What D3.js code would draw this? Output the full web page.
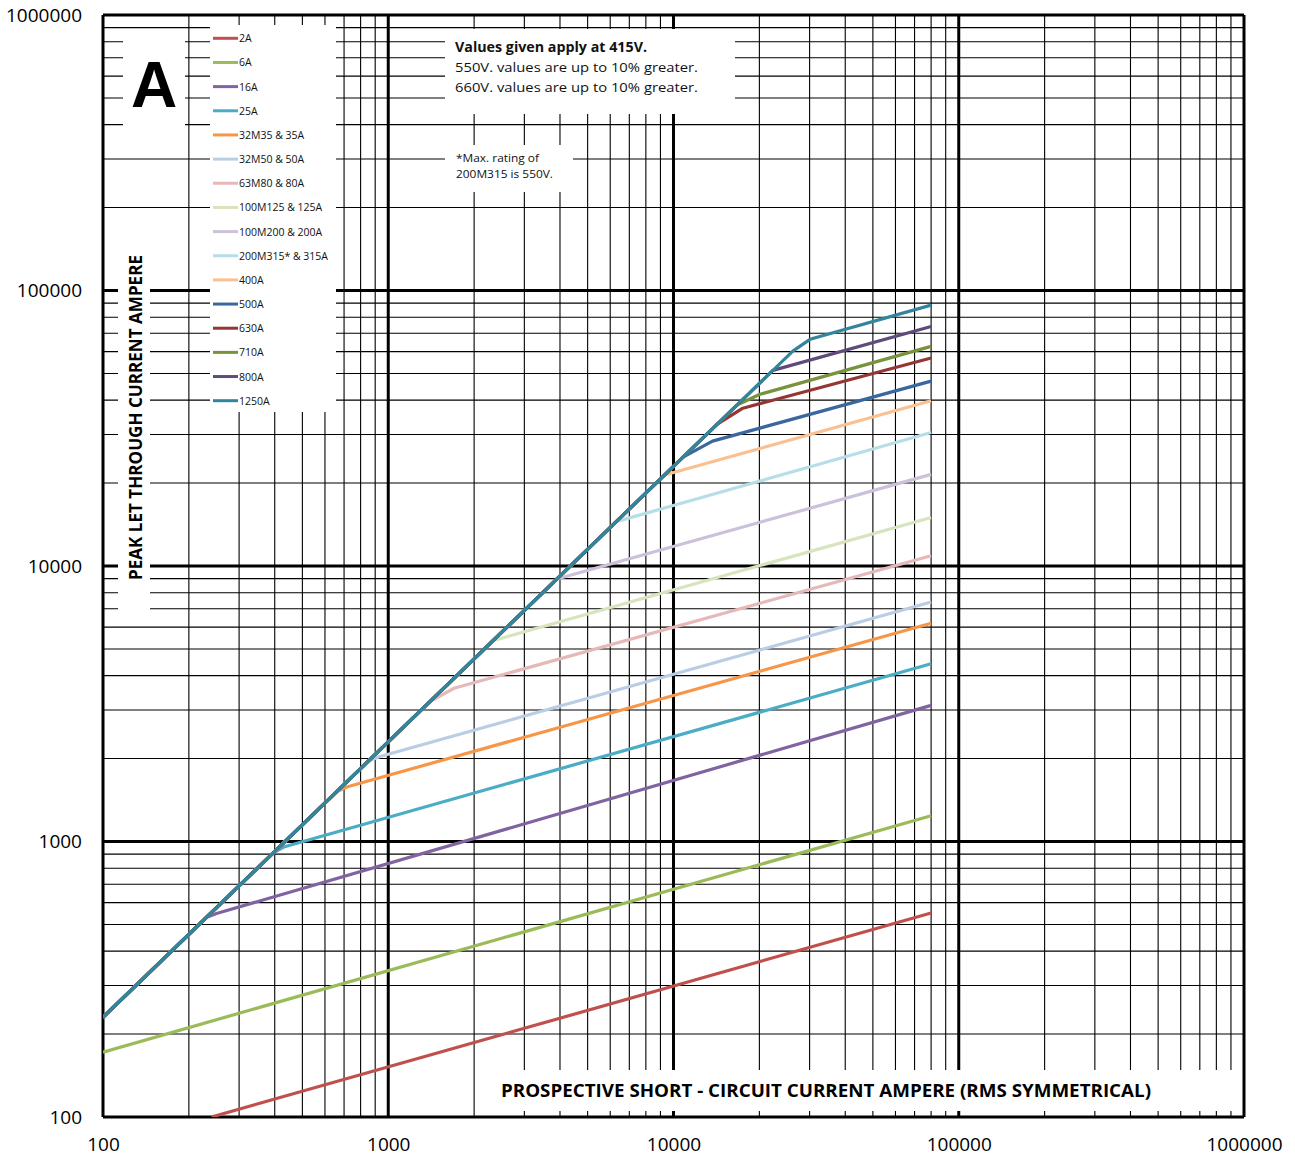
<!DOCTYPE html>
<html>
<head>
<meta charset="utf-8">
<script src="https://cdn.jsdelivr.net/npm/d3@7"></script>
<style>
  html, body { margin: 0; padding: 0; background: #fff; }
  svg { display: block; }
  text { font-family: "Open Sans", "Liberation Sans", sans-serif; }
</style>
</head>
<body>
<svg id="chart" width="1295" height="1159"></svg>
<script>
// ---------- data ----------
const xTickValues = [100, 1000, 10000, 100000, 1000000];
const yTickValues = [100, 1000, 10000, 100000, 1000000];
const xTickLabels = ["100", "1000", "10000", "100000", "1000000"];
const yTickLabels = ["100", "1000", "10000", "100000", "1000000"];

const seriesNames = ["2A", "6A", "16A", "25A", "32M35 & 35A", "32M50 & 50A", "63M80 & 80A",
  "100M125 & 125A", "100M200 & 200A", "200M315* & 315A", "400A", "500A", "630A", "710A", "800A", "1250A"];
const seriesColors = ["#c0504d", "#9bbb59", "#8064a2", "#4bacc6", "#f79646", "#b9cde5", "#e6b9b8",
  "#d7e4bd", "#ccc1da", "#b7dee8", "#fac090", "#3a679e", "#963634", "#77933c", "#604a7b", "#31859c"];

// [prospective current, peak let-through current]
const s2A    = [[240, 100], [80000, 550]];
const s6A    = [[100, 172], [80000, 1240]];
const s16A   = [[100, 230], [231, 531], [250, 548], [80000, 3120]];
const s25A   = [[100, 230], [395, 909], [430, 955], [80000, 4420]];
const s35A   = [[100, 230], [660, 1518], [720, 1580], [80000, 6200]];
const s50A   = [[100, 230], [850, 1955], [930, 2030], [80000, 7400]];
const s80A   = [[100, 230], [1400, 3220], [1700, 3600], [80000, 10900]];
const s125A  = [[100, 230], [2330, 5360], [80000, 15000]];
const s200A  = [[100, 230], [3900, 8970], [80000, 21500]];
const s315A  = [[100, 230], [6300, 14490], [80000, 30500]];
const s400A  = [[100, 230], [9300, 21390], [80000, 39800]];
const s500A  = [[100, 230], [10800, 24840], [13700, 28400], [80000, 46900]];
const s630A  = [[100, 230], [14200, 32660], [17500, 37400], [80000, 56900]];
const s710A  = [[100, 230], [16700, 38410], [20100, 42000], [80000, 62700]];
const s800A  = [[100, 230], [22300, 51290], [80000, 74000]];
const s1250A = [[100, 230], [26200, 60260], [30100, 66500], [80000, 88500]];
const seriesData = [s2A, s6A, s16A, s25A, s35A, s50A, s80A, s125A, s200A, s315A, s400A, s500A, s630A, s710A, s800A, s1250A];

const xTitle = "PROSPECTIVE SHORT - CIRCUIT CURRENT AMPERE (RMS SYMMETRICAL)";
const yTitle = "PEAK LET THROUGH CURRENT AMPERE";
const noteLines = ["Values given apply at 415V.", "550V. values are up to 10% greater.", "660V. values are up to 10% greater."];
const note2Lines = ["*Max. rating of", "200M315 is 550V."];

// ---------- layout ----------
const L = 103, R = 1244, T = 15, B = 1117;
const svg = d3.select("#chart");
const x = d3.scaleLog().domain([100, 1000000]).range([L, R]);
const y = d3.scaleLog().domain([100, 1000000]).range([B, T]);

svg.append("defs").append("clipPath").attr("id", "plotclip")
  .append("rect").attr("x", L).attr("y", T).attr("width", R - L).attr("height", B - T);

// grid
const minorVals = [];
for (let d = 100; d < 1000000; d *= 10) for (let k = 2; k <= 9; k++) minorVals.push(d * k);
const grid = svg.append("g");
grid.selectAll("line.vmin").data(minorVals).join("line")
  .attr("x1", d => x(d)).attr("x2", d => x(d)).attr("y1", T).attr("y2", B)
  .attr("stroke", "#000").attr("stroke-width", 1.1);
grid.selectAll("line.hmin").data(minorVals).join("line")
  .attr("y1", d => y(d)).attr("y2", d => y(d)).attr("x1", L).attr("x2", R)
  .attr("stroke", "#000").attr("stroke-width", 1.1);
grid.selectAll("line.vmaj").data(xTickValues).join("line")
  .attr("x1", d => x(d)).attr("x2", d => x(d)).attr("y1", T).attr("y2", B)
  .attr("stroke", "#000").attr("stroke-width", 3);
grid.selectAll("line.hmaj").data(yTickValues).join("line")
  .attr("y1", d => y(d)).attr("y2", d => y(d)).attr("x1", L).attr("x2", R)
  .attr("stroke", "#000").attr("stroke-width", 3);

// white boxes covering grid
const boxes = [
  [123, 31, 62, 97],     // "A"
  [210, 25, 126, 387],   // legend
  [445, 29, 290, 85],    // note 1
  [445, 145, 128, 47],   // note 2
  [118, 248, 32, 364],   // y title
  [476, 1070, 766, 41]   // x title
];
svg.append("g").selectAll("rect").data(boxes).join("rect")
  .attr("x", d => d[0]).attr("y", d => d[1]).attr("width", d => d[2]).attr("height", d => d[3])
  .attr("fill", "#fff");

// series
const lineGen = d3.line().x(d => x(d[0])).y(d => y(d[1]));
svg.append("g").attr("clip-path", "url(#plotclip)")
  .selectAll("path").data(seriesData).join("path")
  .attr("d", lineGen).attr("fill", "none")
  .attr("stroke", (d, i) => seriesColors[i]).attr("stroke-width", 3.2)
  .attr("stroke-linejoin", "round");

// axes
const xAxis = d3.axisBottom(x).tickValues(xTickValues).tickFormat((d, i) => xTickLabels[i])
  .tickSize(0).tickPadding(21);
const gx = svg.append("g").attr("transform", `translate(0,${B})`).call(xAxis);
gx.select(".domain").remove();
gx.selectAll("text").attr("font-size", 19).attr("fill", "#000")
  .style("font-family", '"Open Sans", sans-serif');

const yAxis = d3.axisLeft(y).tickValues(yTickValues).tickFormat((d, i) => yTickLabels[i])
  .tickSize(0).tickPadding(21);
const gy = svg.append("g").attr("transform", `translate(${L},0)`).call(yAxis);
gy.select(".domain").remove();
gy.selectAll("text").attr("font-size", 19).attr("fill", "#000")
  .style("font-family", '"Open Sans", sans-serif');

// legend
const lg = svg.append("g");
const lgItems = lg.selectAll("g").data(seriesNames).join("g")
  .attr("transform", (d, i) => `translate(213,${38.3 + i * 24.16})`);
lgItems.append("line").attr("x1", 0).attr("x2", 25).attr("y1", 0).attr("y2", 0)
  .attr("stroke", (d, i) => seriesColors[i]).attr("stroke-width", 3);
lgItems.append("text").attr("x", 26).attr("y", 4).attr("font-size", 10.5).attr("fill", "#111")
  .text(d => d);

// big "A"
svg.append("text").attr("x", 154).attr("y", 107).attr("text-anchor", "middle")
  .attr("font-size", 64).attr("font-weight", "bold")
  .style("font-family", '"Liberation Sans", Arial, sans-serif').text("A");

// notes
const noteY = [51.5, 71.5, 91.5];
const noteW = [192, 243, 243];
svg.append("g").selectAll("text").data(noteLines).join("text")
  .attr("x", 455).attr("y", (d, i) => noteY[i])
  .attr("font-size", 13.5).attr("font-weight", (d, i) => i === 0 ? "bold" : "normal")
  .attr("textLength", (d, i) => noteW[i]).attr("lengthAdjust", "spacingAndGlyphs")
  .attr("fill", "#111").text(d => d);
const note2Y = [162.3, 178.3];
const note2W = [83, 97];
svg.append("g").selectAll("text").data(note2Lines).join("text")
  .attr("x", 456).attr("y", (d, i) => note2Y[i]).attr("font-size", 10.5)
  .attr("textLength", (d, i) => note2W[i]).attr("lengthAdjust", "spacingAndGlyphs")
  .attr("fill", "#111").text(d => d);

// axis titles
svg.append("text").attr("x", 501).attr("y", 1097).attr("font-size", 18).attr("font-weight", "bold")
  .attr("textLength", 650).attr("lengthAdjust", "spacingAndGlyphs").attr("fill", "#000").text(xTitle);
svg.append("text").attr("transform", "translate(142,580) rotate(-90)")
  .attr("font-size", 17).attr("font-weight", "bold")
  .attr("textLength", 325).attr("lengthAdjust", "spacingAndGlyphs").attr("fill", "#000").text(yTitle);
</script>
</body>
</html>
